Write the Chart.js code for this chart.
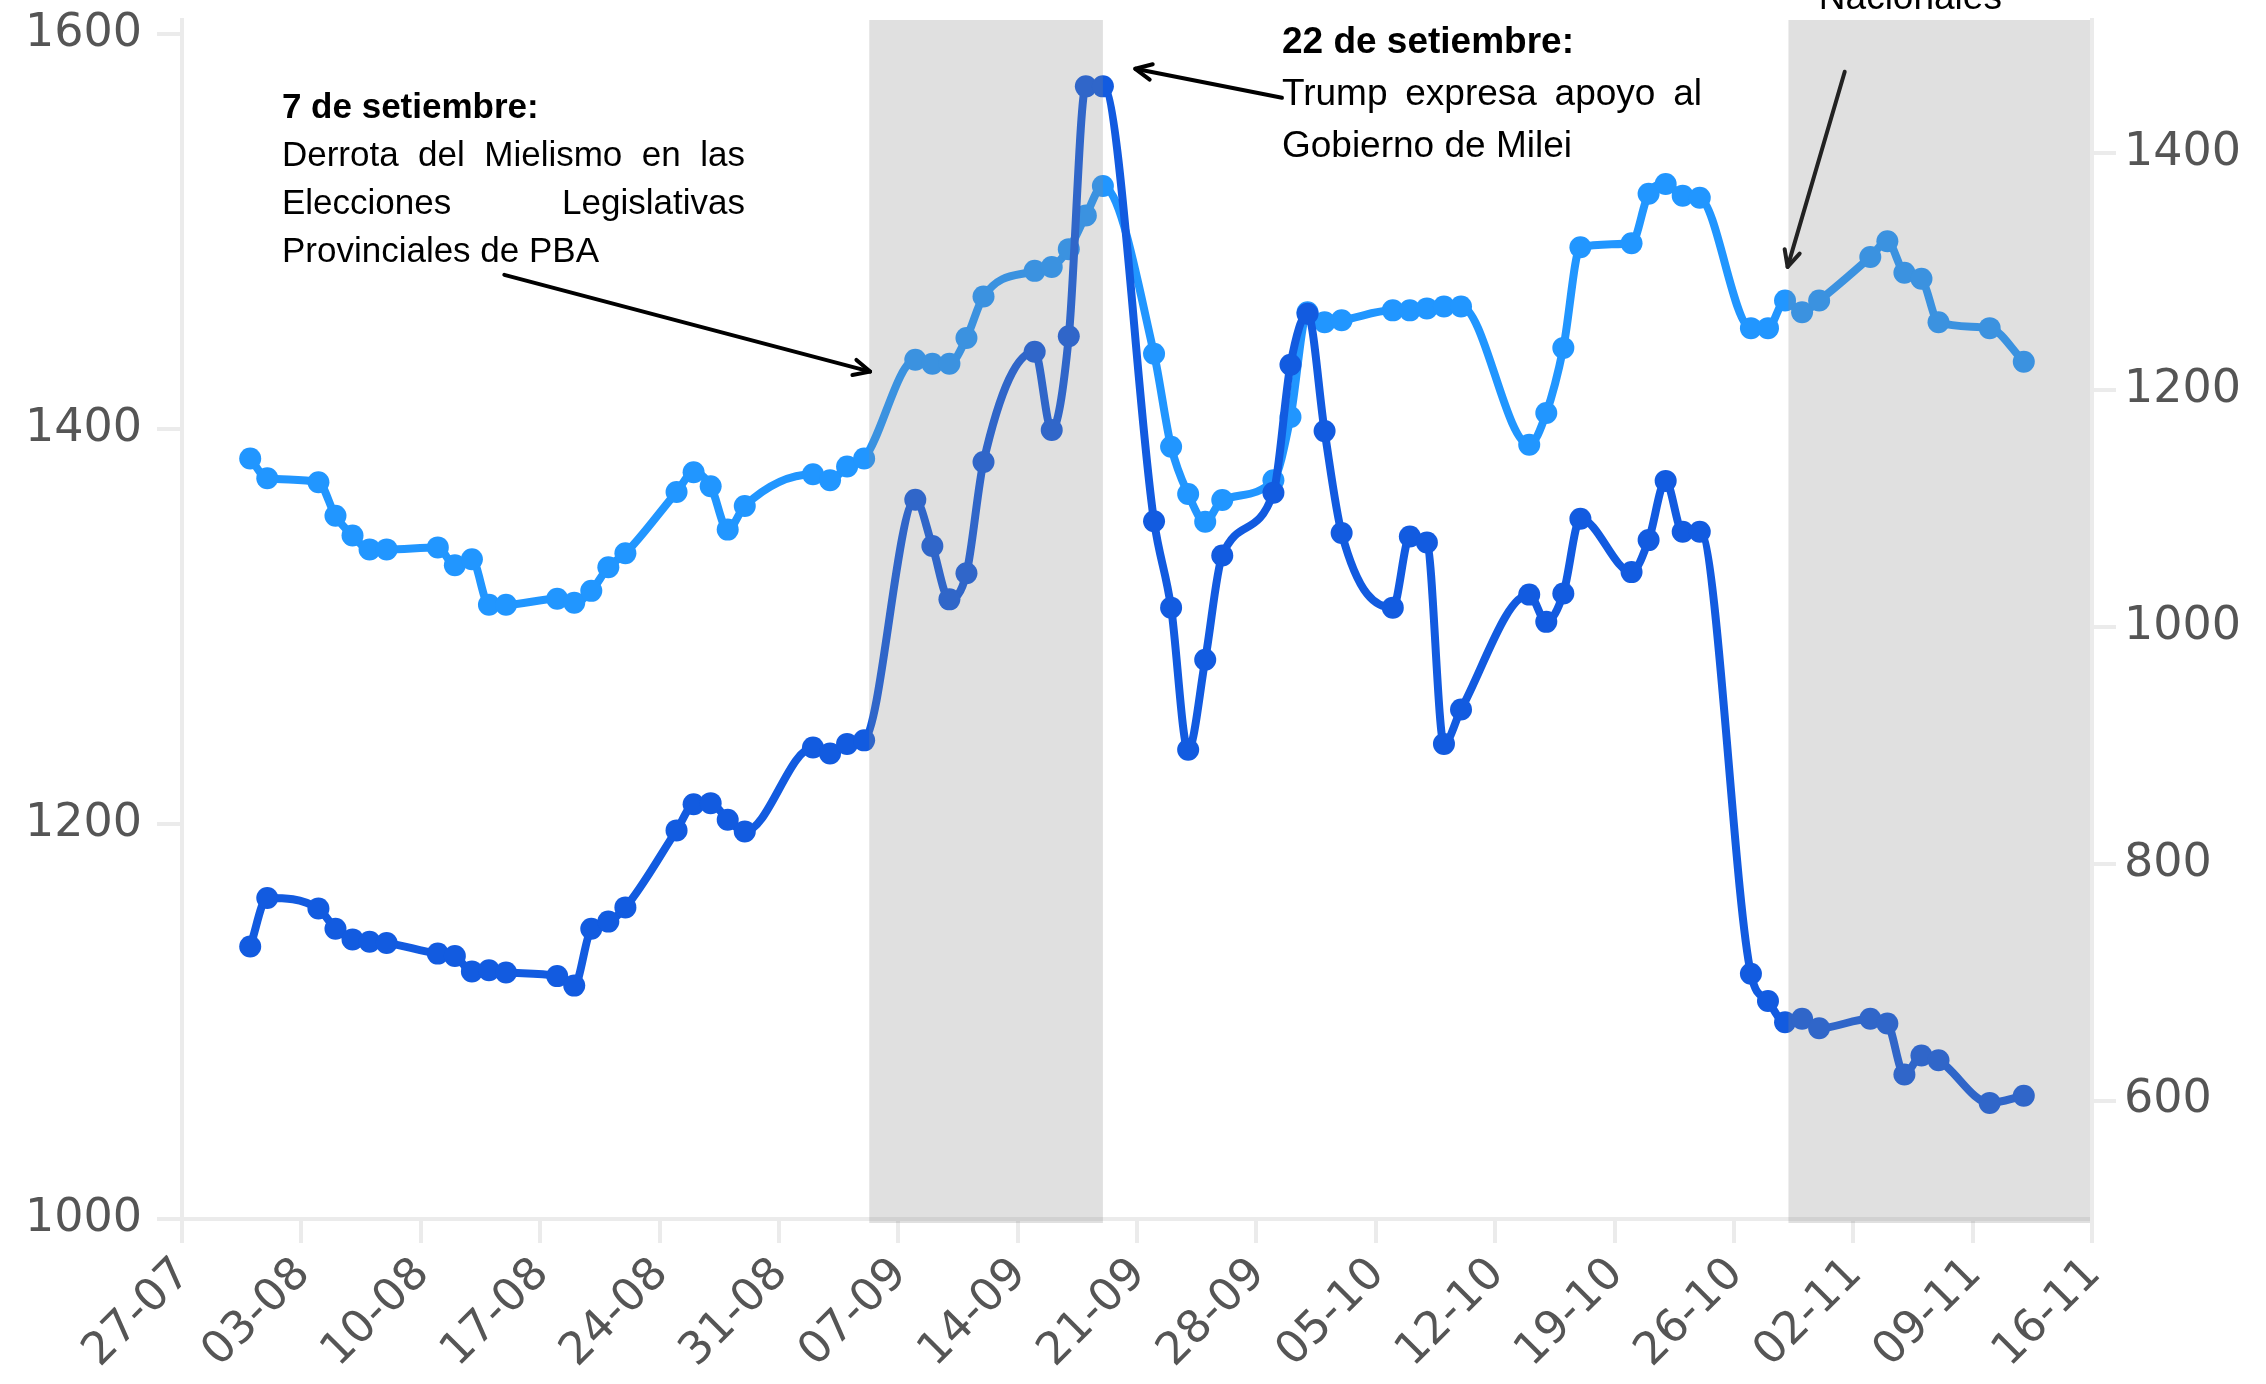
<!DOCTYPE html>
<html>
<head>
<meta charset="utf-8">
<script src="https://cdn.jsdelivr.net/npm/chart.js@4.4.1/dist/chart.umd.min.js"></script>
<style>
  html, body { margin: 0; padding: 0; background: #fff; }
  #wrap { width: 2266px; height: 1384px; }
</style>
</head>
<body>
<div id="wrap"><canvas id="grafico"></canvas></div>
<script>
// ---------------- datos ----------------
const fechas = [
  '31-07','01-08','04-08','05-08','06-08','07-08','08-08','11-08','12-08','13-08','14-08','15-08',
  '18-08','19-08','20-08','21-08','22-08','25-08','26-08','27-08','28-08','29-08',
  '02-09','03-09','04-09','05-09','08-09','09-09','10-09','11-09','12-09',
  '15-09','16-09','17-09','18-09','19-09','22-09','23-09','24-09','25-09','26-09',
  '29-09','30-09','01-10','02-10','03-10','06-10','07-10','08-10','09-10','10-10',
  '14-10','15-10','16-10','17-10','20-10','21-10','22-10','23-10','24-10',
  '27-10','28-10','29-10','30-10','31-10','03-11','04-11','05-11','06-11','07-11','10-11','12-11'
];
// eje izquierdo (celeste)
const dolar = [
  1385,1375,1373,1356,1346,1339,1339,1340,1331,1334,1311,1311,
  1314,1312,1318,1330,1337,1368,1378,1371,1349,1361,
  1377,1374,1381,1385,1435,1433,1433,1446,1467,
  1480,1482,1491,1508,1523,1438,1391,1367,1353,1364,
  1374,1406,1459,1454,1455,1460,1460,1461,1462,1462,
  1392,1408,1441,1492,1494,1519,1524,1518,1517,
  1451,1451,1465,1459,1465,1487,1495,1479,1476,1454,1451,1434
];
// eje derecho (azul)
const riesgo = [
  730,771,762,745,736,734,733,724,722,709,710,708,
  705,697,745,751,763,828,850,851,837,827,
  898,893,901,904,1107,1068,1023,1045,1139,
  1232,1166,1245,1456,1456,1089,1016,896,972,1060,
  1113,1221,1264,1165,1079,1016,1076,1071,901,930,
  1027,1004,1028,1091,1046,1073,1123,1080,1080,
  707,684,666,669,661,669,665,622,638,634,598,604
];
const xTicks = ['27-07','03-08','10-08','17-08','24-08','31-08','07-09','14-09','21-09','28-09','05-10','12-10','19-10','26-10','02-11','09-11','16-11'];
const yIzqTicks = [1000, 1200, 1400, 1600];
const yDerTicks = [600, 800, 1000, 1200, 1400];
// franjas grises (dias desde 27-07)
const franjas = [[40.3, 54.0], [94.2, 112]];

// dias desde el 27-07-2025
function dia(f) {
  const [d, m] = f.split('-').map(Number);
  return (Date.UTC(2025, m - 1, d) - Date.UTC(2025, 6, 27)) / 86400000;
}

const celeste = '#2196FF';
const azul = '#125BE0';
const gris = '#ebebeb';
const fuenteEje = { family: 'DejaVu Sans', size: 46 };

// ---------------- plugins ----------------
const pluginFranjas = {
  id: 'franjas',
  afterDatasetsDraw(chart) {
    const { ctx, chartArea, scales } = chart;
    ctx.save();
    ctx.fillStyle = 'rgba(137,137,137,0.26)';
    franjas.forEach(([a, b]) => {
      const x1 = scales.x.getPixelForValue(a);
      const x2 = Math.min(scales.x.getPixelForValue(b), chartArea.right - 2);
      ctx.fillRect(x1, chartArea.top, x2 - x1, chartArea.bottom - chartArea.top + 4);
    });
    ctx.restore();
  }
};

function flecha(ctx, x1, y1, x2, y2, color) {
  ctx.save();
  ctx.strokeStyle = color;
  ctx.lineWidth = 4;
  ctx.lineCap = 'round';
  ctx.lineJoin = 'round';
  ctx.beginPath(); ctx.moveTo(x1, y1); ctx.lineTo(x2, y2); ctx.stroke();
  const a = Math.atan2(y2 - y1, x2 - x1), L = 18, w = Math.PI / 7;
  ctx.beginPath();
  ctx.moveTo(x2 - L * Math.cos(a - w), y2 - L * Math.sin(a - w));
  ctx.lineTo(x2, y2);
  ctx.lineTo(x2 - L * Math.cos(a + w), y2 - L * Math.sin(a + w));
  ctx.stroke();
  ctx.restore();
}

function justificar(ctx, texto, x, y, ancho) {
  const pal = texto.split(' ');
  const w = pal.map(p => ctx.measureText(p).width);
  const extra = (ancho - w.reduce((s, v) => s + v, 0)) / (pal.length - 1);
  let cx = x;
  pal.forEach((p, i) => { ctx.fillText(p, cx, y); cx += w[i] + extra; });
}

// notas: posicion en (dia, valor eje izq)
const notas = [
  { x: 5.86, y: 1557.5, ancho: 463, salto: 48, size: 35,
    titulo: '7 de setiembre:',
    lineas: ['Derrota del Mielismo en las', 'Elecciones Legislativas', 'Provinciales de PBA'] },
  { x: 64.5, y: 1590.4, ancho: 420, salto: 52, size: 37,
    titulo: '22 de setiembre:',
    lineas: ['Trump expresa apoyo al', 'Gobierno de Milei'] }
];
const flechas = [
  { de: [18.9, 1478], a: [40.35, 1429], color: '#000' },
  { de: [64.5, 1567.6], a: [55.9, 1582.3], color: '#000' },
  { de: [97.5, 1580.8], a: [94.15, 1482], color: '#222' }
];

const pluginNotas = {
  id: 'notas',
  afterDraw(chart) {
    const { ctx, scales } = chart;
    const px = v => scales.x.getPixelForValue(v);
    const py = v => scales.y.getPixelForValue(v);
    ctx.save();
    ctx.fillStyle = '#000';
    ctx.textBaseline = 'alphabetic';
    ctx.textAlign = 'left';
    notas.forEach(n => {
      const x = px(n.x);
      let y = py(n.y);
      ctx.font = 'bold ' + n.size + 'px "Liberation Sans"';
      ctx.fillText(n.titulo, x, y);
      ctx.font = n.size + 'px "Liberation Sans"';
      n.lineas.forEach((l, i) => {
        y += n.salto;
        if (i < n.lineas.length - 1) justificar(ctx, l, x, y, n.ancho);
        else ctx.fillText(l, x, y);
      });
    });
    ctx.font = '37px "Liberation Sans"';
    ctx.textAlign = 'center';
    ctx.fillText('Nacionales', px(101.35), py(1612.7));
    flechas.forEach(f => {
      flecha(ctx, px(f.de[0]), py(f.de[1]), px(f.a[0]), py(f.a[1]), f.color);
    });
    ctx.restore();
  }
};

const sinPadding = s => { s.paddingTop = 0; s.paddingBottom = 0; };

// ---------------- grafico ----------------
const ctx = document.getElementById('grafico');
new Chart(ctx, {
  type: 'line',
  data: {
    datasets: [
      {
        label: 'Dolar',
        data: fechas.map((f, i) => ({ x: dia(f), y: dolar[i] })),
        yAxisID: 'y',
        borderColor: celeste,
        backgroundColor: celeste,
        pointBackgroundColor: celeste,
        borderWidth: 8,
        pointRadius: 11,
        pointBorderWidth: 0,
        cubicInterpolationMode: 'monotone',
        order: 1
      },
      {
        label: 'Riesgo pais',
        data: fechas.map((f, i) => ({ x: dia(f), y: riesgo[i] })),
        yAxisID: 'y2',
        borderColor: azul,
        backgroundColor: azul,
        pointBackgroundColor: azul,
        borderWidth: 8,
        pointRadius: 11,
        pointBorderWidth: 0,
        cubicInterpolationMode: 'monotone',
        order: 0
      }
    ]
  },
  options: {
    responsive: true,
    maintainAspectRatio: false,
    animation: false,
    layout: { padding: { top: 20, left: 0, right: 0, bottom: 0 } },
    plugins: { legend: { display: false }, tooltip: { enabled: false } },
    scales: {
      x: {
        type: 'linear',
        min: 0,
        max: 112,
        afterBuildTicks: s => { s.ticks = xTicks.map(t => ({ value: dia(t) })); },
        afterFit: s => { s.height = 165; },
        grid: { drawOnChartArea: false, color: gris, lineWidth: 4, tickLength: 24 },
        border: { color: gris, width: 4 },
        ticks: {
          autoSkip: false,
          minRotation: 45,
          maxRotation: 45,
          padding: 5,
          labelOffset: 2,
          color: '#555',
          font: { family: 'DejaVu Sans', size: 45 },
          callback: (v, i) => xTicks[i]
        }
      },
      y: {
        position: 'left',
        min: 1000,
        max: 1607,
        afterBuildTicks: s => { s.ticks = yIzqTicks.map(v => ({ value: v })); },
        afterFit: s => { s.width = 182; sinPadding(s); },
        grid: { drawOnChartArea: false, color: gris, lineWidth: 4, tickLength: 25 },
        border: { color: gris, width: 4 },
        ticks: { padding: 15, color: '#555', font: fuenteEje, callback: v => String(v) }
      },
      y2: {
        position: 'right',
        min: 500,
        max: 1512,
        afterBuildTicks: s => { s.ticks = yDerTicks.map(v => ({ value: v })); },
        afterFit: s => { s.width = 174; sinPadding(s); },
        grid: { drawOnChartArea: false, color: gris, lineWidth: 4, tickLength: 24 },
        border: { color: gris, width: 4 },
        ticks: { padding: 8, color: '#555', font: fuenteEje, callback: v => String(v) }
      }
    }
  },
  plugins: [pluginFranjas, pluginNotas]
});
</script>
</body>
</html>
